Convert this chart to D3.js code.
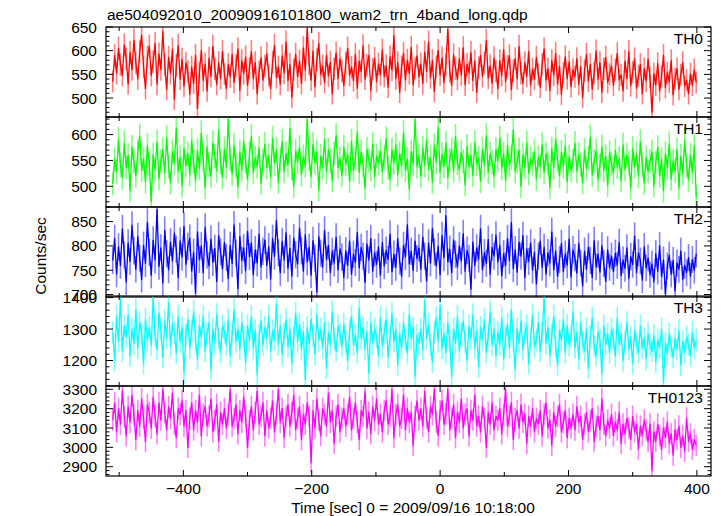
<!DOCTYPE html>
<html><head><meta charset="utf-8">
<script src="https://cdn.jsdelivr.net/npm/d3@7/dist/d3.min.js"></script>
<style>body{margin:0;background:#fff}text{font-family:"Liberation Sans",Arial,Helvetica,sans-serif}</style>
</head><body>
<script>
// time bins: start time and step (sec) relative to 2009/09/16 10:18:00
const tStart = -510, tStep = 3;
const th0 = [535,590,552,605,571,548,612,583,530,596,560,622,575,541,598,633,566,520,587,609,
548,577,615,529,593,560,640,571,518,586,552,603,497,569,611,540,582,525,574,556,
508,566,531,590,478,553,600,537,572,515,584,546,609,562,529,575,541,598,551,520,
571,545,592,533,568,604,516,579,552,587,527,563,598,541,575,509,556,585,538,567,
594,548,520,576,611,543,566,529,589,553,618,537,571,502,560,592,545,578,531,606,
559,647,572,538,599,524,581,615,550,568,533,590,547,576,509,562,595,541,583,557,
526,574,605,548,565,537,592,521,578,556,610,540,569,590,517,561,584,535,572,549,
601,546,568,523,587,559,632,541,575,512,566,594,538,580,552,607,528,563,589,545,
572,531,597,556,618,543,579,514,566,600,549,585,533,570,645,556,527,591,562,540,
583,549,606,528,571,553,596,537,578,512,564,590,546,574,621,542,568,531,585,557,
520,579,548,602,535,567,589,518,558,583,541,609,552,531,575,546,598,527,561,540,
586,550,523,571,604,538,562,516,579,549,594,530,567,508,553,587,541,576,524,560,
545,583,529,566,501,558,592,536,571,519,553,599,540,575,512,562,586,533,550,568,
527,560,594,538,549,515,578,541,598,526,555,583,521,547,571,509,562,536,582,544,
470,551,528,573,515,546,590,522,553,534,579,507,541,562,518,549,575,525,538,509,
551,527,560,533];
const th1 = [505,552,528,590,541,517,583,536,560,492,575,548,520,566,597,531,553,509,578,543,
470,561,532,585,515,548,571,526,594,538,507,567,545,612,529,556,501,574,540,563,
523,588,547,512,569,535,603,551,498,576,542,520,584,558,530,609,546,517,572,537,
630,553,524,579,541,499,566,532,587,548,514,562,596,527,555,538,574,506,549,581,
536,560,518,593,544,571,508,552,586,529,563,541,612,535,500,568,547,575,523,557,
540,629,552,519,581,545,566,493,558,536,590,528,570,549,511,563,598,537,554,521,
575,543,561,510,587,532,552,604,527,566,541,497,572,550,533,582,519,559,545,568,
528,556,592,536,514,571,545,580,522,563,540,603,531,553,495,567,544,629,538,559,
520,574,541,589,533,556,508,579,547,614,527,562,539,583,516,551,570,530,596,545,
532,566,548,503,577,538,560,521,585,543,555,510,572,540,598,527,563,546,519,571,
550,593,535,562,512,579,541,556,609,529,548,570,500,561,537,584,525,553,543,567,
514,556,538,580,527,563,545,498,572,536,591,551,520,566,539,578,509,557,531,549,
583,529,561,542,507,570,534,555,595,522,549,568,513,540,576,531,558,502,565,544,
526,569,537,554,511,580,532,560,546,497,573,538,563,520,586,541,506,555,529,548,
566,501,545,575,520,552,491,563,536,582,514,549,530,571,497,558,524,589,540,512,
560,527,578,480];
const th2 = [770,815,742,798,760,835,781,726,806,768,842,790,752,819,775,731,801,764,848,787,
740,812,771,875,758,796,724,832,784,751,808,769,826,793,735,810,777,840,762,799,
816,748,787,703,829,772,800,745,838,781,759,814,766,795,727,821,788,753,807,776,
733,801,764,843,785,712,819,770,796,749,830,778,806,741,792,765,824,757,789,812,
760,798,732,815,779,852,786,745,809,771,827,754,795,738,816,782,763,836,790,748,
823,767,797,740,811,775,705,819,785,756,832,772,801,745,789,765,818,751,794,777,
735,790,760,810,742,783,766,828,755,797,779,725,804,771,815,748,786,762,798,740,
807,759,791,772,824,747,783,756,815,769,738,801,778,843,763,789,750,810,774,796,
752,818,779,728,806,765,836,788,759,799,741,821,776,862,767,793,745,812,783,757,
800,769,825,748,791,774,711,808,760,796,773,835,751,786,764,813,742,797,779,822,
767,801,739,784,760,815,770,848,753,792,746,808,779,821,735,794,768,806,750,787,
722,779,810,756,797,742,786,765,829,751,790,738,772,805,747,783,761,814,736,792,
776,744,805,765,718,789,752,798,770,735,811,757,783,746,800,764,727,792,756,779,
747,785,760,807,739,771,754,796,733,778,762,820,745,786,769,730,798,755,775,741,
763,726,784,748,800,737,771,701,759,781,742,770,708,765,752,789,731,760,745,776,
738,772,750,784];
const th3 = [1290,1200,1340,1260,1395,1230,1310,1275,1345,1215,1300,1255,1360,1240,1320,1285,1190,1330,1265,1305,
1250,1400,1280,1235,1350,1300,1210,1325,1270,1385,1245,1315,1290,1225,1340,1260,1305,1160,1280,1330,
1240,1295,1355,1265,1205,1310,1275,1340,1230,1285,1320,1170,1300,1255,1345,1270,1225,1310,1290,1250,
1330,1215,1285,1360,1260,1300,1235,1320,1275,1195,1310,1265,1340,1240,1295,1155,1280,1325,1250,1305,
1270,1340,1230,1295,1265,1380,1250,1310,1220,1285,1330,1245,1300,1190,1275,1350,1260,1315,1235,1290,
1140,1305,1255,1330,1280,1220,1345,1265,1300,1240,1320,1175,1290,1250,1355,1270,1230,1310,1285,1245,
1315,1260,1200,1295,1340,1250,1280,1225,1365,1270,1305,1235,1290,1160,1320,1255,1300,1275,1215,1335,
1245,1290,1330,1210,1275,1350,1260,1300,1185,1285,1240,1320,1265,1225,1345,1270,1305,1150,1280,1255,
1300,1235,1390,1270,1315,1250,1195,1290,1335,1260,1375,1240,1285,1225,1320,1265,1150,1300,1255,1340,
1230,1285,1325,1260,1200,1310,1270,1345,1240,1295,1180,1305,1265,1330,1225,1280,1355,1250,1300,1215,
1290,1250,1335,1205,1275,1315,1240,1360,1265,1170,1300,1255,1325,1235,1285,1310,1190,1270,1345,1245,
1265,1320,1230,1290,1400,1255,1305,1215,1280,1340,1245,1185,1295,1265,1330,1225,1310,1250,1275,1355,
1240,1290,1205,1320,1260,1230,1300,1175,1275,1335,1245,1215,1290,1265,1160,1310,1250,1285,1225,1300,
1270,1215,1335,1250,1285,1200,1260,1320,1235,1275,1190,1295,1255,1225,1310,1240,1270,1205,1285,1250,
1230,1280,1195,1265,1240,1300,1130,1255,1220,1285,1245,1210,1270,1235,1295,1185,1260,1225,1275,1250,
1215,1290,1240,1265];
const th0123 = [3140,3230,3080,3200,3120,3290,3160,3060,3210,3130,3270,3170,3040,3190,3110,3250,3150,3030,3220,3180,
3100,3260,3160,3070,3230,3140,3300,3180,3090,3210,3150,3280,3120,3050,3200,3170,3240,3110,3190,3000,
3150,3230,3090,3190,3130,3270,3060,3170,3210,3110,3160,3250,3080,3140,3220,3030,3180,3120,3200,3100,
3170,3300,3110,3150,3220,3070,3190,3130,3260,3160,3000,3140,3210,3090,3180,3290,3120,3160,3230,3060,
3190,3100,3150,3240,3080,3170,3300,3130,3200,3050,3160,3220,3110,3180,3270,3090,3150,3210,3040,3170,
3120,3230,3160,2920,3190,3100,3250,3140,3060,3200,3170,3110,3280,3130,3190,3020,3160,3220,3080,3150,
3200,3110,3170,3260,3090,3150,3230,3130,3040,3190,3160,3290,3100,3180,3070,3210,3140,3250,3120,3170,
3080,3190,3240,3120,3160,3300,3050,3170,3220,3110,3150,3270,3090,3200,3130,3180,3010,3160,3240,3140,
3200,3110,3290,3150,3080,3210,3170,3300,3130,3060,3190,3240,3120,3170,3300,3090,3150,3220,3050,3180,
3130,3250,3100,3170,3200,3060,3190,3140,3270,3110,3160,3080,3210,3150,3000,3180,3120,3230,3090,3160,
3140,3200,3070,3170,3300,3110,3160,3230,3040,3150,3190,3100,3220,3130,3170,3020,3160,3110,3200,3080,
3150,3120,3190,3060,3170,3230,3100,3140,3010,3180,3110,3160,3220,3080,3130,3190,3050,3150,3100,3170,
3090,3210,3130,3160,3040,3120,3180,3080,3140,3200,3030,3110,3160,3090,3250,3120,3060,3140,3100,3170,
3060,3130,3090,3180,3020,3120,3070,3150,3100,3040,3160,3080,3120,2990,3110,3060,3140,3090,3030,3120,
2880,3080,3030,3120,3060,2990,3100,3050,3130,3020,3070,2960,3090,3040,3110,3000,3060,2980,3150,3030,
3070,2990,3040,3010];

const panelNames = ["TH0","TH1","TH2","TH3","TH0123"];
const panelColors = ["#ff0000","#00ff00","#0000ff","#00ffff","#ff00ff"];
const panelDomains = [[460,650],[460,634],[695,880],[1119,1405],[2852,3317]];
const majorSteps = [50,50,50,100,100];
const minorSteps = [10,10,10,20,20];
const xDomain = [-520.5, 422];
const xTickLabels = [-400,-200,0,200,400];
const titleText = "ae504092010_20090916101800_wam2_trn_4band_long.qdp";
const xLabel = "Time [sec] 0 = 2009/09/16 10:18:00";
const yLabel = "Counts/sec";
const series = [th0, th1, th2, th3, th0123];

const W = 722, H = 516, FS = 15.5;
const left = 106, right = 711;
const panelTops = [27, 117, 207, 296, 386];
const panelH = 90;

const svg = d3.select("body").append("svg").attr("width", W).attr("height", H);
const x = d3.scaleLinear().domain(xDomain).range([left, right]);

svg.append("text").attr("x", 107).attr("y", 20).attr("font-size", FS).text(titleText);

series.forEach((vals, p) => {
  const top = panelTops[p], bot = top + panelH;
  const y = d3.scaleLinear().domain(panelDomains[p]).range([bot, top]);
  const g = svg.append("g");
  const clipId = "clip" + p;
  svg.append("clipPath").attr("id", clipId).append("rect")
    .attr("x", left).attr("y", top).attr("width", right - left).attr("height", panelH);
  const data = vals.map((v, i) => ({t: tStart + i * tStep, v}));
  const dg = g.append("g").attr("clip-path", `url(#${clipId})`);
  // error bars (Poisson, 1-s bins)
  dg.selectAll("line.err").data(data).enter().append("line")
    .attr("x1", d => x(d.t)).attr("x2", d => x(d.t))
    .attr("y1", d => y(d.v - Math.sqrt(d.v))).attr("y2", d => y(d.v + Math.sqrt(d.v)))
    .attr("stroke", panelColors[p]).attr("stroke-opacity", 0.5).attr("stroke-width", 1.6);
  dg.append("path").datum(data)
    .attr("d", d3.line().x(d => x(d.t)).y(d => y(d.v)))
    .attr("fill", "none").attr("stroke", panelColors[p]).attr("stroke-width", 1.3)
    .attr("stroke-linejoin", "round");

  // frame
  g.append("rect").attr("x", left).attr("y", top).attr("width", right - left).attr("height", panelH)
    .attr("fill", "none").attr("stroke", "#000").attr("stroke-width", 1.2);

  // y ticks
  const [d0, d1] = panelDomains[p];
  const minorT = d3.range(Math.ceil(d0 / minorSteps[p]) * minorSteps[p], d1 + 0.001, minorSteps[p]);
  minorT.forEach(v => {
    const major = Math.abs(v / majorSteps[p] - Math.round(v / majorSteps[p])) < 1e-6;
    const len = major ? 7 : 3.5;
    g.append("line").attr("x1", left).attr("x2", left + len).attr("y1", y(v)).attr("y2", y(v))
      .attr("stroke", "#000").attr("stroke-width", 1);
    g.append("line").attr("x1", right).attr("x2", right - len).attr("y1", y(v)).attr("y2", y(v))
      .attr("stroke", "#000").attr("stroke-width", 1);
    if (major) {
      g.append("text").attr("x", 97).attr("y", y(v)).attr("dy", "0.36em")
        .attr("text-anchor", "end").attr("font-size", FS).text(v);
    }
  });
  // x ticks
  d3.range(-500, 401, 100).forEach(t => {
    const len = (t % 200 === 0) ? 6 : 4;
    g.append("line").attr("x1", x(t)).attr("x2", x(t)).attr("y1", top).attr("y2", top + len)
      .attr("stroke", "#000").attr("stroke-width", 1);
    g.append("line").attr("x1", x(t)).attr("x2", x(t)).attr("y1", bot).attr("y2", bot - len)
      .attr("stroke", "#000").attr("stroke-width", 1);
  });
  g.append("text").attr("x", 703).attr("y", top + 17).attr("text-anchor", "end")
    .attr("font-size", FS).text(panelNames[p]);
});

xTickLabels.forEach(t => {
  svg.append("text").attr("x", x(t)).attr("y", 494).attr("text-anchor", "middle")
    .attr("font-size", FS).text(t < 0 ? "\u2212" + Math.abs(t) : t);
});
svg.append("text").attr("x", 413).attr("y", 513).attr("text-anchor", "middle")
  .attr("font-size", FS).text(xLabel);
svg.append("text").attr("transform", "translate(46,256) rotate(-90)").attr("text-anchor", "middle")
  .attr("font-size", FS).text(yLabel);
</script>
</body></html>
